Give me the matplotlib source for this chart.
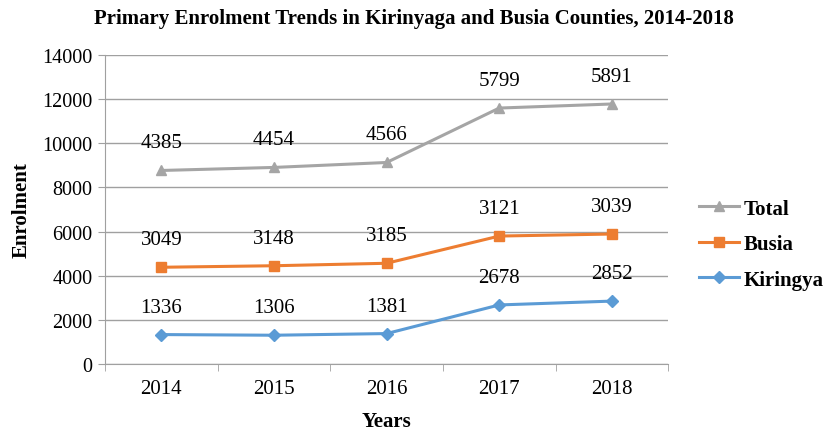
import numpy as np
import matplotlib.pyplot as plt

# --- Data ---
years = ['2014', '2015', '2016', '2017', '2018']
kiringya = [1336, 1306, 1381, 2678, 2852]
busia = [3049, 3148, 3185, 3121, 3039]
total = [4385, 4454, 4566, 5799, 5891]

plt.rcParams['font.family'] = 'Liberation Serif'

fig = plt.figure(figsize=(8.27, 4.31), dpi=100)
ax = fig.add_axes([0.127, 0.153, 0.681, 0.717])

x = np.arange(len(years))
# stacked line chart, as in the source
k_cum = np.array(kiringya)
b_cum = k_cum + np.array(busia)
t_cum = b_cum + np.array(total)

series = [
    ('Total', t_cum, total, '#A5A5A5', '^'),
    ('Busia', b_cum, busia, '#ED7D31', 's'),
    ('Kiringya', k_cum, kiringya, '#5B9BD5', 'D'),
]
for name, ys, labels, color, marker in series:
    ax.plot(x, ys, color=color, lw=2.2, marker=marker, ms=7 if marker != 'D' else 6,
            label=name, zorder=3)
    for xi, yi, lab in zip(x, ys, labels):
        ax.annotate(str(lab), (xi, yi), xytext=(0, 13), textcoords='offset points',
                    ha='center', va='bottom', fontsize=15)

ax.set_xlim(-0.5, len(years) - 0.5)
ax.set_ylim(0, 14000)
ax.set_yticks(np.arange(0, 14001, 2000))
ax.set_xticks(x)
ax.set_xticklabels(years, fontsize=15)
ax.set_xticks(np.arange(-0.5, len(years), 1), minor=True)
ax.tick_params(axis='x', which='major', length=0, pad=11)
ax.tick_params(axis='x', which='minor', length=5, color='#A0A0A0', direction='out')
ax.tick_params(axis='y', labelsize=14.5, length=5, color='#A0A0A0', pad=4)

ax.grid(axis='y', color='#A0A0A0', lw=1)
ax.set_axisbelow(True)
for s in ['top', 'right']:
    ax.spines[s].set_visible(False)
for s in ['left', 'bottom']:
    ax.spines[s].set_color('#A0A0A0')

ax.set_xlabel('Years', fontsize=15, fontweight='bold', labelpad=9)
ax.set_ylabel('Enrolment', fontsize=15, fontweight='bold', labelpad=8)
fig.suptitle('Primary Enrolment Trends in Kirinyaga and Busia Counties, 2014-2018',
             x=0.5, y=0.978, fontsize=15, fontweight='bold')

ax.legend(loc='center left', bbox_to_anchor=(1.055, 0.388), frameon=False,
          prop={'weight': 'bold', 'size': 15}, handlelength=1.9, handletextpad=0.25,
          labelspacing=0.75, borderpad=0, borderaxespad=0)

fig.savefig('out.png', dpi=100)
